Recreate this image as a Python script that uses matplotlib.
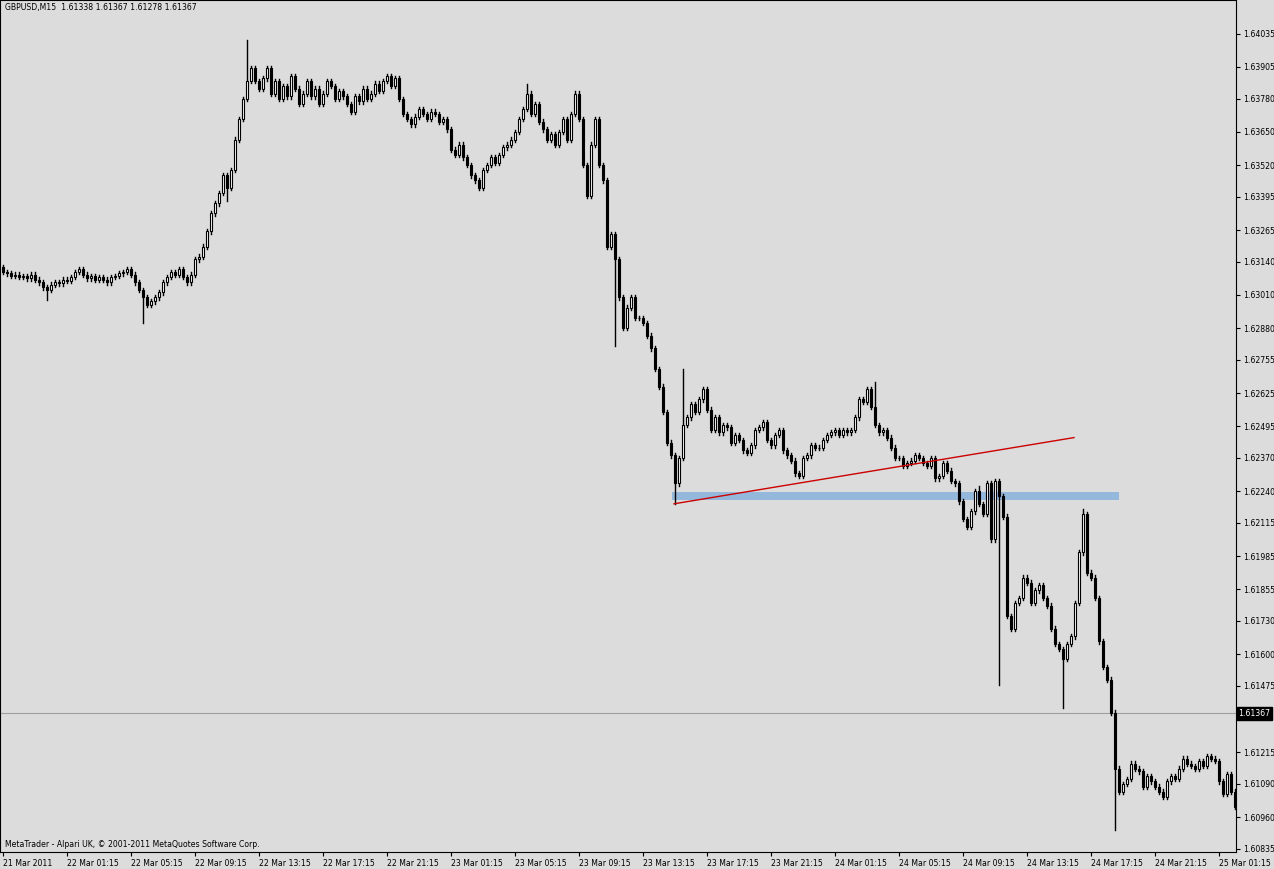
import matplotlib
matplotlib.use("Agg")
import matplotlib.pyplot as plt
from matplotlib.patches import Rectangle

# closes as offset points: price = 1.6 + v/100000
closes = [
3100,3095,3085,3090,3080,3085,3075,3090,3070,3060,3040,3030,3050,3060,3055,3070,
3065,3080,3100,3110,3090,3075,3085,3070,3080,3070,3060,3080,3085,3095,3100,3110,
3090,3060,3030,3000,2970,2985,3000,3020,3060,3080,3100,3090,3110,3080,3060,3090,
3150,3160,3200,3260,3330,3370,3410,3480,3430,3500,3620,3700,3780,3850,3900,3850,
3820,3860,3900,3800,3850,3780,3830,3790,3870,3820,3760,3800,3850,3790,3820,3760,
3800,3850,3830,3780,3810,3790,3760,3730,3790,3770,3820,3780,3800,3840,3810,3850,
3870,3830,3860,3780,3720,3700,3680,3710,3740,3720,3700,3730,3720,3690,3700,3660,
3580,3560,3600,3550,3520,3480,3460,3430,3500,3520,3550,3530,3560,3590,3600,3620,
3650,3700,3740,3800,3720,3760,3690,3660,3620,3640,3600,3650,3700,3620,3720,3800,
3700,3520,3400,3600,3700,3520,3460,3200,3250,3150,3000,2880,2960,3000,2920,2920,
2900,2850,2800,2720,2650,2550,2430,2380,2270,2370,2500,2530,2580,2550,2600,2640,
2560,2480,2530,2470,2500,2490,2430,2460,2440,2400,2390,2420,2480,2490,2510,2440,
2420,2460,2480,2400,2380,2360,2310,2300,2370,2380,2420,2410,2410,2440,2460,2470,
2480,2460,2480,2470,2480,2530,2600,2590,2640,2570,2500,2470,2480,2450,2410,2370,
2370,2340,2350,2360,2380,2370,2350,2340,2370,2290,2300,2350,2320,2280,2270,2200,
2130,2100,2160,2240,2190,2150,2270,2050,2280,2220,2140,1750,1700,1800,1820,1900,
1880,1800,1850,1870,1820,1790,1700,1640,1620,1580,1640,1670,1800,2000,2150,1920,
1900,1820,1650,1550,1500,1370,1150,1060,1090,1110,1170,1150,1140,1080,1120,1100,
1080,1060,1040,1100,1120,1110,1150,1190,1170,1160,1150,1180,1160,1200,1190,1180,
1100,1050,1130,1060,1000]
first_open = 3120
wick = 9
extreme_lows = {11: 2990, 35: 2900, 56: 3380, 153: 2810, 168: 2190, 249: 1480, 265: 1390, 278: 910}
extreme_highs = {61: 4010, 131: 3840, 170: 2720, 218: 2670, 244: 2260, 270: 2170}

yticks = [1.64035,1.63905,1.63780,1.63650,1.63520,1.63395,1.63265,1.63140,1.63010,1.62880,
          1.62755,1.62625,1.62495,1.62370,1.62240,1.62115,1.61985,1.61855,1.61730,1.61600,
          1.61475,1.61215,1.61090,1.60960,1.60835]
xlabels = ["21 Mar 2011","22 Mar 01:15","22 Mar 05:15","22 Mar 09:15","22 Mar 13:15","22 Mar 17:15",
           "22 Mar 21:15","23 Mar 01:15","23 Mar 05:15","23 Mar 09:15","23 Mar 13:15","23 Mar 17:15",
           "23 Mar 21:15","24 Mar 01:15","24 Mar 05:15","24 Mar 09:15","24 Mar 13:15","24 Mar 17:15",
           "24 Mar 21:15","25 Mar 01:15"]
trend_x = [167.75, 267.75]
trend_y = [1.62190, 1.62450]
zone = (167.2, 279, 1.62205, 1.62235)
bid = 1.61367

def P(v): return 1.6 + v/100000.0

W, H = 1274, 869
fig = plt.figure(figsize=(W/100, H/100), dpi=100)
fig.patch.set_facecolor("#dcdcdc")
ax = fig.add_axes([0, 17/H, 1236/W, 852/H])
ax.set_facecolor("#dcdcdc")
ax.set_xlim(-0.75, 308.25)
ax.set_ylim(1.60823, 1.64168)

prev = first_open
for i, c in enumerate(closes):
    o = prev
    hi = P(max(o, c) + wick); lo = P(min(o, c) - wick)
    if i in extreme_lows: lo = P(extreme_lows[i])
    if i in extreme_highs: hi = P(extreme_highs[i])
    ax.plot([i, i], [lo, hi], color="black", lw=1, zorder=2)
    bot = P(min(o, c)); h = max(abs(P(c) - P(o)), 0.000004)
    fc = "white" if c >= o else "black"
    ax.add_patch(Rectangle((i - 0.35, bot), 0.7, h, facecolor=fc, edgecolor="black", lw=0.8, zorder=3))
    prev = c

ax.add_patch(Rectangle((zone[0], zone[2]), zone[1] - zone[0], zone[3] - zone[2],
                       facecolor="#94b8dc", edgecolor="none", zorder=1))
ax.plot(trend_x, trend_y, color="#cc0000", lw=1, zorder=4)
ax.axhline(bid, color="#a0a0a0", lw=0.8, zorder=1)

fs = 5.6
ax.yaxis.tick_right()
ax.set_yticks(yticks)
ax.set_yticklabels([f"{t:.5f}" for t in yticks], fontsize=fs)
ax.tick_params(axis="y", length=3, pad=2)
ax.set_xticks([16 * k for k in range(len(xlabels))])
ax.set_xticklabels(xlabels, fontsize=fs, ha="left")
ax.tick_params(axis="x", length=3, pad=2)
for s in ax.spines.values():
    s.set_color("black"); s.set_linewidth(0.8)

ax.text(1.002, bid, f"{bid:.5f}", transform=ax.get_yaxis_transform(), fontsize=fs, color="white",
        va="center", ha="left", bbox=dict(facecolor="black", edgecolor="black", pad=1.2), zorder=5, clip_on=False)
ax.text(0.004, 0.997, "GBPUSD,M15  1.61338 1.61367 1.61278 1.61367", transform=ax.transAxes,
        fontsize=fs, va="top", ha="left")
ax.text(0.004, 0.004, "MetaTrader - Alpari UK, © 2001-2011 MetaQuotes Software Corp.", transform=ax.transAxes,
        fontsize=fs, va="bottom", ha="left")
fig.savefig("out.png", dpi=100, facecolor=fig.get_facecolor())
